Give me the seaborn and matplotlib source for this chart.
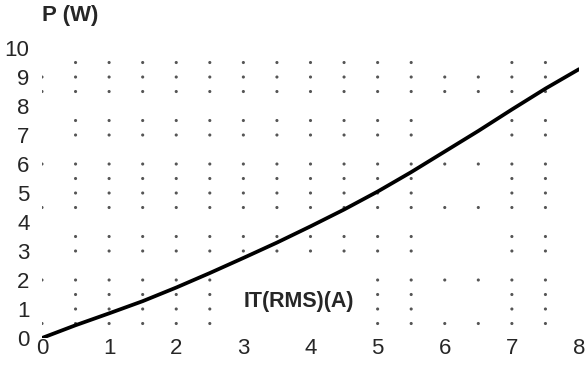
import numpy as np
import pandas as pd
import matplotlib
matplotlib.use("Agg")
import matplotlib.pyplot as plt
import seaborn as sns

# Curve data: on-state power dissipation vs RMS current
current_a = [0, 0.5, 1, 1.5, 2, 2.5, 3, 3.5, 4, 4.5, 5, 5.5, 6, 6.5, 7, 7.5, 8]
power_w = [0, 0.44, 0.85, 1.27, 1.74, 2.24, 2.76, 3.29, 3.85, 4.43, 5.05, 5.72,
           6.43, 7.14, 7.88, 8.6, 9.27]

x_ticks = [0, 1, 2, 3, 4, 5, 6, 7, 8]
y_ticks = [0, 1, 2, 3, 4, 5, 6, 7, 8, 9, 10]

# Dotted grid: columns and rows of dots, with the gaps seen in the picture
grid_cols = [0, 0.5, 1, 1.5, 2, 2.5, 3, 3.5, 4, 4.5, 5, 5.5, 6, 6.5, 7, 7.5]
grid_rows = [9.5, 9, 8.5, 7.5, 7, 6, 5.5, 5, 4.5, 3.5, 3, 2, 1.5, 1, 0.5]
grid_missing = {
    9.5: [0, 6, 6.5],
    9: [],
    8.5: [],
    7.5: [0, 6, 6.5],
    7: [0, 6, 6.5],
    6: [],
    5.5: [0, 6, 6.5],
    5: [0, 6, 6.5],
    4.5: [],
    3.5: [0, 6, 6.5],
    3: [0, 6, 6.5],
    2: [3, 3.5, 4, 4.5],
    1.5: [0, 3, 3.5, 4, 4.5, 6, 6.5],
    1: [0, 3, 3.5, 4, 4.5, 6, 6.5],
    0.5: [3, 3.5, 4, 4.5],
}

sns.set_style("white")
plt.rcParams['font.family'] = ['Liberation Sans', 'DejaVu Sans']

fig = plt.figure(figsize=(5.88, 3.66), dpi=100)
ax = fig.add_axes([0.0714, 0.0765, 0.9133, 0.7923])

dots = pd.DataFrame(
    [(gx, gy) for gy in grid_rows for gx in grid_cols if gx not in grid_missing[gy]],
    columns=["x", "y"],
)
sns.scatterplot(data=dots, x="x", y="y", ax=ax, s=5, color="#555555",
                edgecolor="none", zorder=1, legend=False)

curve = pd.DataFrame({"I": current_a, "P": power_w})
sns.lineplot(data=curve, x="I", y="P", ax=ax, color="black", linewidth=2.7,
             zorder=3)

ax.set_xlim(0, 8)
ax.set_ylim(0, 10)
ax.set_xticks(x_ticks)
ax.set_yticks(y_ticks)
ax.set_xticklabels([str(v) for v in x_ticks], fontsize=16)
ax.set_yticklabels([str(v) for v in y_ticks], fontsize=16)
ax.tick_params(axis='x', length=0, pad=0)
ax.tick_params(axis='y', length=0, pad=9)
for s in ax.spines.values():
    s.set_visible(False)
ax.set_xlabel("")
ax.set_ylabel("")

ax.text(3.0, 1.25, "IT(RMS)(A)", fontsize=15.5, fontweight='bold',
        ha='left', va='center')
fig.text(42 / 588, 1 - 16 / 366, "P (W)", fontsize=16, fontweight='bold',
         ha='left', va='center')

fig.savefig("out.png", dpi=100, facecolor="white")
